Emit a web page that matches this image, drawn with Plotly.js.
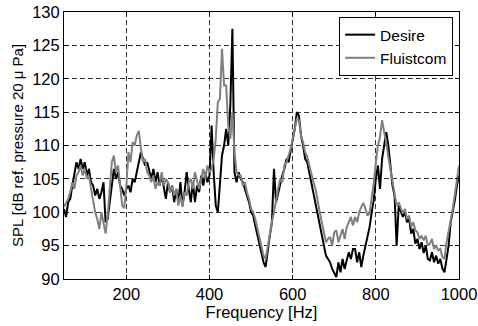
<!DOCTYPE html>
<html>
<head>
<meta charset="utf-8">
<script src="https://cdn.plot.ly/plotly-3.0.1.min.js"></script>
<style>html,body{margin:0;padding:0;background:#fff;}#chart{width:478px;height:326px;}</style>
</head>
<body>
<div id="chart"></div>
<script>
// Frequency grid [Hz]
const freq = [
  50, 55, 60, 65, 70, 75, 80, 85, 90, 95,
  100, 105, 110, 115, 120, 125, 130, 135, 140, 145,
  150, 155, 160, 165, 170, 175, 180, 185, 190, 195,
  200, 205, 210, 215, 220, 225, 230, 235, 240, 245,
  250, 255, 260, 265, 270, 275, 280, 285, 290, 295,
  300, 305, 310, 315, 320, 325, 330, 335, 340, 345,
  350, 355, 360, 365, 370, 375, 380, 385, 390, 395,
  400, 405, 410, 415, 420, 425, 430, 435, 440, 445,
  450, 455, 460, 465, 470, 475, 480, 485, 490, 495,
  500, 505, 510, 515, 520, 525, 530, 535, 540, 545,
  550, 555, 560, 565, 570, 575, 580, 585, 590, 595,
  600, 605, 610, 615, 620, 625, 630, 635, 640, 645,
  650, 655, 660, 665, 670, 675, 680, 685, 690, 695,
  700, 705, 710, 715, 720, 725, 730, 735, 740, 745,
  750, 755, 760, 765, 770, 775, 780, 785, 790, 795,
  800, 805, 810, 815, 820, 825, 830, 835, 840, 845,
  850, 855, 860, 865, 870, 875, 880, 885, 890, 895,
  900, 905, 910, 915, 920, 925, 930, 935, 940, 945,
  950, 955, 960, 965, 970, 975, 980, 985, 990, 995,
  1000
];

// SPL [dB] - Desire
const desire = [
  100.5, 99.3, 101.5, 102, 104, 105.5, 107.5, 106.5, 108, 106.5,
  107.5, 105.5, 106.5, 104.5, 104, 102.5, 103.5, 102, 103, 104.5,
  98.5, 99, 101.5, 104, 106.5, 105, 106, 104, 103.5, 102.5,
  103.5, 104, 103, 105, 104.5, 106, 107.5, 109, 108, 107,
  107.5, 106, 105, 106.5, 104.5, 106, 104, 105.5, 103.5, 102,
  104.5, 103, 104, 101.5, 103.5, 101.5, 104.5, 101, 103, 106,
  103.5, 101.5, 104.5, 101.5, 104, 103, 105.5, 104, 106, 104.5,
  105.5, 113, 106, 101, 100, 104, 108.5, 110, 112.5, 110,
  116, 127.5, 106, 104.5, 106, 105, 104.5, 103.5, 102.5, 101.5,
  100, 99.5, 98, 96.5, 95.5, 94, 92.5, 91.8, 94.5, 96.5,
  98.5, 106.5, 101.5, 103, 104.5, 105.5, 106.5, 108, 107.5, 109.5,
  110.8, 112.5, 115, 114.5, 111.5, 110, 108, 107.5, 106, 104.5,
  103, 101.5, 100, 98.5, 97, 95, 93.5, 93, 92.5, 91.5,
  91, 90.3, 92.5, 91, 93, 91.5, 92.8, 94, 93, 94.5,
  94.5, 92.5, 94, 91.8, 93.5, 95, 96.5, 97.8, 100, 101.8,
  105, 107, 103.5, 108, 110, 112, 110, 107, 104, 102.5,
  95, 101, 100, 99.3, 100, 98.5, 99, 96.8, 97.5, 95.3,
  96, 94.5, 95.5, 93.9, 95, 93, 92.8, 94, 92.5, 93.5,
  92.3, 93, 91.6, 91, 93, 95, 98.5, 100, 101.8, 104,
  105.5
];

// SPL [dB] - Fluistcom
const fluistcom = [
  100.8, 101.5, 102, 103, 104.5, 103.5, 105.5, 106, 107, 105.5,
  106.5, 105, 105.5, 103.5, 101.5, 100, 99, 97.5, 100, 98.5,
  96.8, 99.5, 104, 107.5, 108.5, 106, 107, 104, 101, 100.6,
  104, 109, 107.5, 110.5, 110, 111.5, 112.2, 109.5, 107.5, 108,
  106, 105.5, 104.5, 105.5, 103.5, 104.5, 104, 106, 104, 105,
  104.5, 103, 104, 102.5, 103.5, 101, 102.5, 100.8, 103, 102.5,
  104.5, 105, 103.5, 106, 104.5, 103.5, 105, 106.5, 105, 107,
  106, 106.5, 108, 111, 116.5, 117, 124.5, 119, 119, 113,
  111, 115, 109, 106, 105.5, 105.5, 104, 104.5, 103, 102,
  100.5, 100, 99, 97.5, 96, 95, 93.5, 93, 95, 96.5,
  98.5, 100, 102, 103.5, 105, 104.5, 107, 107.5, 108.5, 109.5,
  111, 112.5, 114, 113.8, 111.5, 110.5, 109, 108.3, 107, 105.5,
  104.5, 103.5, 101.5, 100, 98.5, 97, 95.5, 96, 96.3, 95,
  97, 97.3, 95.5, 96.5, 97.5, 96, 97.8, 98.5, 99.3, 98,
  99.3, 98.5, 100, 100.8, 101.4, 100.5, 99.5, 99.9, 102, 104.4,
  107.4, 110, 111.3, 113.8, 112, 110.5, 108.3, 106.5, 104.5, 102.9,
  101, 101.5, 100.5, 99.8, 100.5, 99, 99.5, 97.8, 98.5, 97.3,
  97, 96, 96.5, 95.8, 96.5, 95, 95.3, 96, 94.5, 95,
  94.3, 94.5, 93.3, 93, 95.5, 97.5, 98.8, 100.5, 102.5, 105,
  107
];

const xTicks = [200, 400, 600, 800, 1000];
const yTicks = [90, 95, 100, 105, 110, 115, 120, 125, 130];

const fontFam = 'Liberation Sans, Arial, sans-serif';

const traces = [
  {x: freq, y: desire, name: 'Desire', type: 'scatter', mode: 'lines',
   line: {color: '#000000', width: 2}},
  {x: freq, y: fluistcom, name: 'Fluistcom', type: 'scatter', mode: 'lines',
   line: {color: '#808080', width: 2}}
];

const axisCommon = {
  showline: true, linecolor: '#000', linewidth: 1, mirror: 'ticks',
  ticks: 'inside', ticklen: 4, tickcolor: '#000',
  showgrid: true, gridcolor: '#333', gridwidth: 1, griddash: '5px,3px',
  zeroline: false, tickfont: {family: fontFam, size: 16.5, color: '#000'}
};

const layout = {
  width: 478, height: 326,
  margin: {l: 64, r: 19, t: 12, b: 47},
  paper_bgcolor: '#fff', plot_bgcolor: '#fff',
  font: {family: fontFam, size: 16.5, color: '#000'},
  xaxis: Object.assign({}, axisCommon, {
    range: [50, 1000], tickmode: 'array', tickvals: xTicks, ticktext: xTicks.map(String),
    title: {text: 'Frequency [Hz]', font: {family: fontFam, size: 16.5, color: '#000'}, standoff: 0}
  }),
  yaxis: Object.assign({}, axisCommon, {
    range: [90, 130], tickmode: 'array', tickvals: yTicks, ticktext: yTicks.map(String),
    title: {text: 'SPL [dB ref. pressure 20 \u03bc Pa]', font: {family: fontFam, size: 15, color: '#000'}, standoff: 4}
  }),
  showlegend: true,
  legend: {
    x: 0.985, y: 0.981, xanchor: 'right', yanchor: 'top',
    bgcolor: '#fff', bordercolor: '#000', borderwidth: 1,
    font: {family: fontFam, size: 15.5, color: '#000'},
    tracegroupgap: 0
  }
};

Plotly.newPlot('chart', traces, layout, {staticPlot: true, displayModeBar: false});
</script>
</body>
</html>
